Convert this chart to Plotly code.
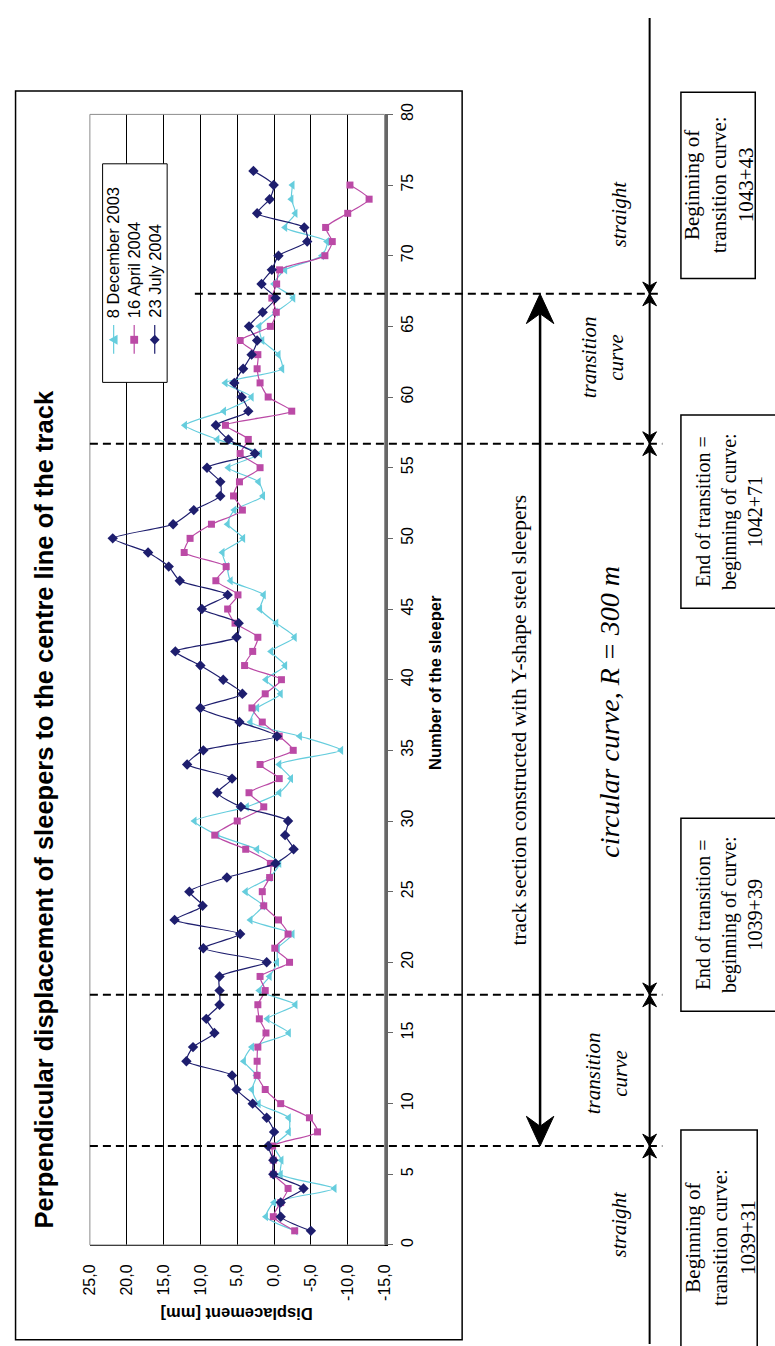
import plotly.graph_objects as go

W, H = 775, 1346

# ---------------------------------------------------------------- data
sleepers_dec = list(range(1, 76))
disp_dec_2003 = [
    -2.9, 1.1, 0.0, -8.2, -0.9, -1.0, 0.0, -2.0, -2.0, 2.1,
    3.0, 2.4, 4.1, 3.0, -2.0, 0.9, -2.9, 2.0, 0.6, -0.4,
    -0.5, -2.5, 3.2, 1.5, 3.85, 0.6, -0.7, 2.3, 7.7, 10.8,
    3.7, -0.7, -2.3, -0.7, -9.1, -3.5, 3.2, 2.3, -0.9, 1.1,
    -1.5, 0.4, -2.8, -0.3, 1.9, 1.4, 5.9, 6.4, 7.0, 4.2,
    6.3, 5.4, 1.5, 2.1, 6.2, 1.9, 7.7, 12.1, 6.8, 3.05,
    6.6, -1.1, -0.6, 1.6, 2.0, -0.2, -2.6, 0.0, -1.5, -6.5,
    -7.2, -1.5, -2.9, -2.35, -2.5,
]
sleepers_apr = list(range(1, 76))
disp_apr_2004 = [
    -2.8, 0.1, -0.9, -1.9, 0.1, 0.1, 0.2, -5.9, -4.8, -0.9,
    1.2, 2.3, 2.3, 2.2, 1.1, 2.0, 2.2, 1.2, 1.9, -2.1,
    -0.1, -1.9, -0.6, 1.4, 1.6, 0.6, 0.5, 3.85, 8.05, 5.0,
    1.4, 3.4, -0.7, 1.9, -2.6, -0.7, 1.6, 3.0, 1.2, -1.0,
    4.0, 2.9, 2.2, 5.3, 6.3, 4.9, 7.9, 6.5, 12.2, 11.4,
    8.5, 4.3, 5.5, 4.7, 1.9, 4.6, 3.5, 6.6, -2.4, 0.8,
    1.9, 2.3, 2.2, 4.6, 0.5, -0.3, 0.3, -0.35, -0.75, -6.9,
    -7.9, -7.0, -10.0, -12.9, -10.3,
]
sleepers_jul = list(range(1, 77))
disp_jul_2004 = [
    -5.0, -0.9, -0.9, -4.0, 0.1, 0.1, 0.8, 0.0, 1.0, 2.9,
    5.1, 5.7, 11.9, 11.0, 8.1, 9.2, 7.4, 7.4, 7.4, 1.0,
    9.6, 4.6, 13.5, 9.7, 11.5, 6.4, -0.2, -2.65, -1.5, -1.9,
    4.5, 7.7, 5.7, 11.8, 9.6, -0.4, 4.7, 10.0, 4.3, 6.9,
    10.0, 13.4, 5.1, 4.8, 9.8, 6.3, 12.8, 14.3, 17.1, 21.9,
    13.7, 10.9, 7.3, 7.3, 9.1, 2.6, 6.2, 7.9, 3.5, 4.4,
    5.4, 4.2, 3.05, 2.3, 3.4, 1.55, -0.2, 1.7, 0.3, -0.6,
    -4.5, -4.1, 2.3, 0.6, 0.05, 2.8,
]

series_names = ["8 December 2003", "16 April 2004", "23 July 2004"]
series_colors = ["#66cddd", "#bb4aa6", "#1e1e6e"]
series_symbols = ["triangle-left", "square", "diamond"]

disp_tickvals = [25, 20, 15, 10, 5, 0, -5, -10, -15]
disp_ticktext = ["25,0", "20,0", "15,0", "10,0", "5,0", "0,0", "-5,0", "-10,0", "-15,0"]
sleeper_tickvals = list(range(0, 81, 5))

# sleepers where the track geometry changes (straight / transition / curve)
geometry_breaks = [7.0, 17.7, 56.7, 67.3]

# ---------------------------------------------------------------- frame
PLOT_L, PLOT_R, PLOT_T, PLOT_B = 82.7, 384.0, 104.4, 1246.0
SLEEPER_MAX = 80


def px(x):
    return x / W


def py(y):
    return 1 - y / H


def sleeper_y(n):
    return PLOT_B - n / SLEEPER_MAX * (PLOT_B - PLOT_T)


SANS = "Liberation Sans, Arial, sans-serif"
SERIF = "Liberation Serif, Times New Roman, serif"

fig = go.Figure()

xs = [sleepers_dec, sleepers_apr, sleepers_jul]
ys = [disp_dec_2003, disp_apr_2004, disp_jul_2004]
for name, col, sym, n, d in zip(series_names, series_colors, series_symbols, xs, ys):
    fig.add_trace(go.Scatter(
        x=d, y=n, name=name, mode="lines+markers",
        line=dict(color=col, width=1.2, shape="spline", smoothing=0.6),
        marker=dict(color=col, symbol=sym, size=8 if sym != "square" else 7,
                    line=dict(width=0)),
        cliponaxis=False,
    ))

fig.update_layout(
    width=W, height=H, margin=dict(l=0, r=0, t=0, b=0),
    paper_bgcolor="white", plot_bgcolor="white", showlegend=False,
    xaxis=dict(
        domain=[px(PLOT_L), px(PLOT_R)], range=[25, -15],
        tickvals=disp_tickvals, ticktext=disp_ticktext, tickangle=-90,
        showgrid=True, gridcolor="black", gridwidth=1, zeroline=False,
        showline=True, linecolor="black", linewidth=1.2, ticks="",
        ticklabelstandoff=12,
        tickfont=dict(family=SANS, size=16, color="black"),
    ),
    yaxis=dict(
        domain=[py(PLOT_B), py(PLOT_T)], range=[0, SLEEPER_MAX], side="right",
        tickvals=sleeper_tickvals, tickangle=-90, showgrid=False, zeroline=False,
        showline=True, linecolor="#666666", linewidth=2.5,
        ticks="outside", ticklen=6, tickcolor="#666666", tickwidth=1.2,
        tickfont=dict(family=SANS, size=16, color="black"),
    ),
)

shapes = []
ann = []


def rect(x0, y0, x1, y1, color="black", width=1.5, fill=None, layer="above"):
    shapes.append(dict(type="rect", xref="paper", yref="paper",
                       x0=px(x0), x1=px(x1), y0=py(y0), y1=py(y1),
                       line=dict(color=color, width=width),
                       fillcolor=fill if fill else "rgba(0,0,0,0)", layer=layer))


def seg(x0, y0, x1, y1, color="black", width=2, dash=None):
    shapes.append(dict(type="line", xref="paper", yref="paper",
                       x0=px(x0), x1=px(x1), y0=py(y0), y1=py(y1),
                       line=dict(color=color, width=width, dash=dash), layer="above"))


def head(x, tip, direction, length, half, notch):
    """Filled, notched arrow head; direction +1 points down, -1 points up."""
    back = tip - direction * length
    mid = tip - direction * (length - notch)
    path = (f"M {px(x)},{py(tip)} L {px(x - half)},{py(back)} "
            f"L {px(x)},{py(mid)} L {px(x + half)},{py(back)} Z")
    shapes.append(dict(type="path", xref="paper", yref="paper", path=path,
                       fillcolor="black", line=dict(color="black", width=1),
                       layer="above"))


def text(x, y, s, size, family=SANS, angle=-90, xa="center", ya="middle",
         color="black"):
    ann.append(dict(x=px(x), y=py(y), xref="paper", yref="paper", text=s,
                    showarrow=False, textangle=angle, xanchor=xa, yanchor=ya,
                    font=dict(family=family, size=size, color=color)))


# chart and plot-area frames
rect(6.7, 80.7, 463.3, 1341.7, width=1.5)
rect(PLOT_L, PLOT_T, PLOT_R, PLOT_B, color="#8c8c8c", width=1)

# titles
text(36, 806, "<b>Perpendicular displacement of sleepers to the centre line of the track</b>", 25.5)
text(233, 1315, "<b>Displacement [mm]</b>", 16.5, angle=180)
text(436, 678, "<b>Number of the sleeper</b>", 16.5)

# legend
rect(95.7, 154.3, 161.7, 375.0, width=1, fill="white")
for i, (name, col, sym) in enumerate(zip(series_names, series_colors, series_symbols)):
    lx = 107 + 21 * i
    text(lx, 312, name, 16.5, ya="bottom")
    seg(lx, 317, lx, 346, color=col, width=1.2)
    if sym == "triangle-left":
        path = f"M {px(lx - 5)},{py(332)} L {px(lx + 4)},{py(327)} L {px(lx + 4)},{py(337)} Z"
    elif sym == "square":
        path = (f"M {px(lx - 4)},{py(328)} L {px(lx + 4)},{py(328)} "
                f"L {px(lx + 4)},{py(336)} L {px(lx - 4)},{py(336)} Z")
    else:
        path = (f"M {px(lx)},{py(327)} L {px(lx + 5)},{py(332)} "
                f"L {px(lx)},{py(337)} L {px(lx - 5)},{py(332)} Z")
    shapes.append(dict(type="path", xref="paper", yref="paper", path=path,
                       fillcolor=col, line=dict(width=0), layer="above"))

# geometry break lines
for n in geometry_breaks:
    y = sleeper_y(n)
    x_start = 190 if n > 60 else PLOT_L
    seg(x_start, y, 668, y, width=2, dash="8px,5px")

# section with Y-shape steel sleepers
y_top, y_bot = sleeper_y(geometry_breaks[3]), sleeper_y(geometry_breaks[0])
seg(543, y_top + 20, 543, y_bot - 20, width=2.5)
head(543, y_top, -1, 30, 14, 10)
head(543, y_bot, 1, 30, 14, 10)
text(521, (y_top + y_bot) / 2, "track section constructed with Y-shape steel sleepers",
     21.5, family=SERIF)

# chainage line with arrows at every break
seg(655, 7, 655, H, width=2)
for n in geometry_breaks:
    y = sleeper_y(n)
    head(655, y, 1, 12, 7, 4)
    head(655, y, -1, 12, 7, 4)

text(624, 205, "<i>straight</i>", 21, family=SERIF)
text(607, 350, "<i>transition<br>curve</i>", 21, family=SERIF)
text(614, 708, "<i>circular curve, R = 300 m</i>", 28, family=SERIF)
text(611, 1073, "<i>transition<br>curve</i>", 21, family=SERIF)
text(624, 1225, "<i>straight</i>", 21, family=SERIF)

# chainage boxes
rect(687, 82, 763, 270, width=1.5)
text(726, 176, "Beginning of<br>transition curve:<br>1043+43", 21, family=SERIF)
rect(687, 408, 820, 603, width=1.5)
text(736, 505, "End of transition =<br>beginning of curve:<br>1042+71", 20, family=SERIF)
rect(687, 815, 820, 1010, width=1.5)
text(736, 912, "End of transition =<br>beginning of curve:<br>1039+39", 20, family=SERIF)
rect(687, 1130, 765, 1420, width=1.5)
text(727, 1239, "Beginning of<br>transition curve:<br>1039+31", 21, family=SERIF)

fig.update_layout(shapes=shapes, annotations=ann)
fig.write_html("out.html")
